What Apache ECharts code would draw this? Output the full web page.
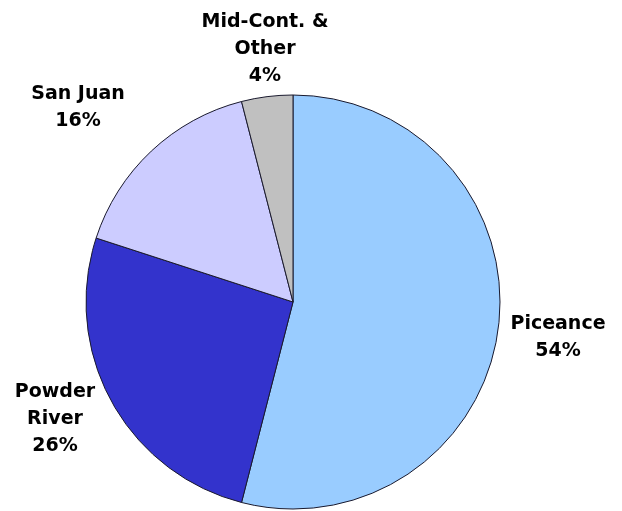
<!DOCTYPE html>
<html>
<head>
<meta charset="utf-8">
<script src="https://cdn.jsdelivr.net/npm/echarts@6/dist/echarts.min.js"></script>
<style>
  html, body { margin: 0; padding: 0; background: #ffffff; }
  #chart { width: 622px; height: 511px; }
</style>
</head>
<body>
<div id="chart"></div>
<script>
// Basin shares (percent), drawn clockwise from 12 o'clock
const basins = ['Piceance', 'Powder\nRiver', 'San Juan', 'Mid-Cont. &\nOther'];
const shares = [54, 26, 16, 4];
const sliceColors = ['#99CCFF', '#3333CC', '#CCCCFF', '#C0C0C0'];

// Label anchor points (centre of each text block), in pixels
const labelAnchors = [[558, 338], [55, 419], [78, 108], [265, 49]];

const chart = echarts.init(document.getElementById('chart'), null, { renderer: 'canvas' });

chart.setOption({
  backgroundColor: '#ffffff',
  animation: false,
  series: [{
    type: 'pie',
    center: [293, 302],
    radius: 207,
    startAngle: 90,
    clockwise: true,
    avoidLabelOverlap: false,
    data: basins.map((name, i) => ({
      name: name,
      value: shares[i],
      itemStyle: { color: sliceColors[i] }
    })),
    itemStyle: { borderColor: '#1a1a2e', borderWidth: 1 },
    label: {
      show: true,
      position: 'outside',
      formatter: p => p.name + '\n' + p.value + '%',
      fontFamily: 'DejaVu Sans',
      fontWeight: 'bold',
      fontSize: 19,
      lineHeight: 27,
      color: '#000000',
      align: 'center'
    },
    labelLine: { show: false },
    labelLayout: params => {
      const a = labelAnchors[params.dataIndex];
      return { x: a[0], y: a[1], align: 'center', verticalAlign: 'middle' };
    },
    emphasis: { disabled: true }
  }]
});
</script>
</body>
</html>
